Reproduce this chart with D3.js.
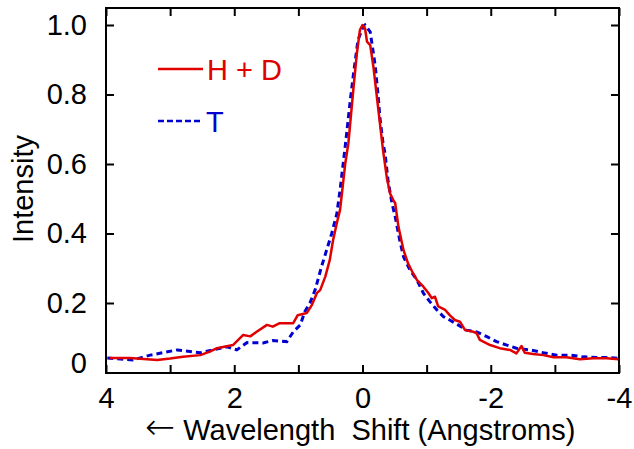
<!DOCTYPE html>
<html><head><meta charset="utf-8">
<script src="https://cdn.jsdelivr.net/npm/d3@7"></script>
<style>body{margin:0;background:#fff;} text{font-family:"Liberation Sans",Arial,sans-serif;}</style>
</head><body><svg id="c" width="634" height="449"></svg>
<script>
const xTicks = [4,3,2,1,0,-1,-2,-3,-4];
const xTickLabels = ["4","","2","","0","","-2","","-4"];
const yTicks = [0,0.2,0.4,0.6,0.8,1.0];
const yTickLabels = ["0","0.2","0.4","0.6","0.8","1.0"];
const seriesNames = ["H + D","T"];

const hdShift = [3.94,3.63,3.20,3.00,2.80,2.53,2.38,2.27,2.02,1.86,1.75,1.65,1.49,1.40,1.29,1.08,1.01,0.87,0.79,0.71,0.66,0.58,0.51,0.46,0.40,0.35,0.32,0.27,0.22,0.19,0.14,0.09,0.04,0.00,-0.04,-0.07,-0.12,-0.17,-0.22,-0.27,-0.32,-0.38,-0.43,-0.48,-0.51,-0.56,-0.64,-0.71,-0.79,-0.85,-0.95,-1.03,-1.08,-1.13,-1.18,-1.29,-1.36,-1.44,-1.52,-1.60,-1.73,-1.78,-1.83,-1.99,-2.14,-2.30,-2.40,-2.48,-2.53,-2.66,-2.82,-2.98,-3.18,-3.39,-3.60,-3.81,-3.99];
const hdIntensity = [0.042,0.042,0.036,0.040,0.045,0.050,0.060,0.070,0.079,0.108,0.104,0.117,0.137,0.132,0.142,0.142,0.165,0.171,0.194,0.229,0.237,0.276,0.324,0.380,0.430,0.468,0.516,0.600,0.660,0.720,0.820,0.915,0.986,1.000,0.990,0.952,0.942,0.880,0.800,0.720,0.640,0.560,0.515,0.496,0.487,0.420,0.352,0.314,0.285,0.266,0.247,0.228,0.214,0.218,0.190,0.180,0.165,0.151,0.146,0.122,0.117,0.113,0.094,0.079,0.070,0.065,0.055,0.076,0.057,0.053,0.050,0.044,0.044,0.038,0.041,0.041,0.038];

const tShift = [3.98,3.58,3.31,2.89,2.53,2.11,1.96,1.80,1.55,1.40,1.18,1.08,0.97,0.90,0.82,0.74,0.64,0.56,0.48,0.40,0.35,0.27,0.19,0.14,0.07,-0.01,-0.04,-0.12,-0.17,-0.20,-0.25,-0.27,-0.32,-0.35,-0.40,-0.46,-0.51,-0.58,-0.64,-0.74,-0.85,-0.95,-1.05,-1.16,-1.26,-1.36,-1.49,-1.62,-1.78,-1.94,-2.09,-2.25,-2.40,-2.61,-2.82,-3.03,-3.24,-3.44,-3.65,-3.86,-4.00];
const tIntensity = [0.042,0.036,0.050,0.065,0.057,0.074,0.065,0.086,0.085,0.092,0.089,0.117,0.137,0.175,0.200,0.237,0.304,0.352,0.400,0.457,0.525,0.650,0.784,0.860,0.957,0.995,1.000,0.980,0.919,0.880,0.784,0.736,0.660,0.632,0.550,0.487,0.448,0.381,0.333,0.295,0.266,0.228,0.204,0.180,0.161,0.151,0.137,0.122,0.117,0.103,0.089,0.079,0.070,0.065,0.057,0.050,0.050,0.045,0.043,0.043,0.041];

const L=106, R=619, T=8, B=373;
const svg = d3.select("#c");
const x = d3.scaleLinear().domain([4,-4]).range([L,R]);
const y = d3.scaleLinear().domain([0,1]).range([372.5,25]);
const FS = 29;

svg.append("rect").attr("x",L).attr("y",T).attr("width",R-L).attr("height",B-T)
  .attr("fill","none").attr("stroke","#000").attr("stroke-width",2);

const tl = 8;
const gb = svg.append("g").attr("transform",`translate(0,${B})`)
  .call(d3.axisBottom(x).tickValues(xTicks).tickSize(-tl).tickPadding(tl+6).tickFormat((d,i)=>xTickLabels[i]));
const gt = svg.append("g").attr("transform",`translate(0,${T})`)
  .call(d3.axisTop(x).tickValues(xTicks).tickSize(-tl).tickFormat(""));
const gl = svg.append("g").attr("transform",`translate(${L},0)`)
  .call(d3.axisLeft(y).tickValues(yTicks).tickSize(-tl).tickPadding(tl+11).tickFormat((d,i)=>yTickLabels[i]));
const gr = svg.append("g").attr("transform",`translate(${R},0)`)
  .call(d3.axisRight(y).tickValues(yTicks).tickSize(-tl).tickFormat(""));
[gb,gt,gl,gr].forEach(g=>{
  g.select(".domain").remove();
  g.selectAll(".tick line").attr("stroke","#000").attr("stroke-width",2);
  g.selectAll("text").attr("font-size",FS).attr("font-family","Liberation Sans, Arial, sans-serif").attr("fill","#000");
});
gl.selectAll(".tick").filter(d=>d===0).select("text").attr("dy","0.0em");

const line = d3.line().x(d=>x(d[0])).y(d=>y(d[1]));
svg.append("path").datum(tShift.map((v,i)=>[v,tIntensity[i]]))
  .attr("d",line).attr("fill","none").attr("stroke","#0000d0").attr("stroke-width",3).attr("stroke-dasharray","6,4");
svg.append("path").datum(hdShift.map((v,i)=>[v,hdIntensity[i]]))
  .attr("d",line).attr("fill","none").attr("stroke","#e00000").attr("stroke-width",2.5).attr("stroke-linejoin","round");

svg.append("line").attr("x1",158).attr("x2",203).attr("y1",69).attr("y2",69).attr("stroke","#e00000").attr("stroke-width",2.5);
svg.append("text").attr("x",207).attr("y",80).attr("font-size",FS).attr("fill","#e00000").text(seriesNames[0]);
svg.append("line").attr("x1",158).attr("x2",203).attr("y1",121).attr("y2",121).attr("stroke","#0000d0").attr("stroke-width",2.5).attr("stroke-dasharray","6,3");
svg.append("text").attr("x",206).attr("y",132).attr("font-size",FS).attr("fill","#0000d0").text(seriesNames[1]);

const xt = svg.append("text").attr("x",145).attr("y",440).attr("font-size",FS).attr("fill","#000").attr("style","white-space:pre");
xt.append("tspan").attr("font-family","DejaVu Sans").attr("font-size",36).attr("font-weight","200").attr("dy","-1").text("\u2190");
xt.append("tspan").attr("dy","1").text(" Wavelength  Shift (Angstroms)");
svg.append("text").attr("transform","translate(33,189) rotate(-90)").attr("text-anchor","middle").attr("font-size",FS).attr("fill","#000").text("Intensity");
</script></body></html>
